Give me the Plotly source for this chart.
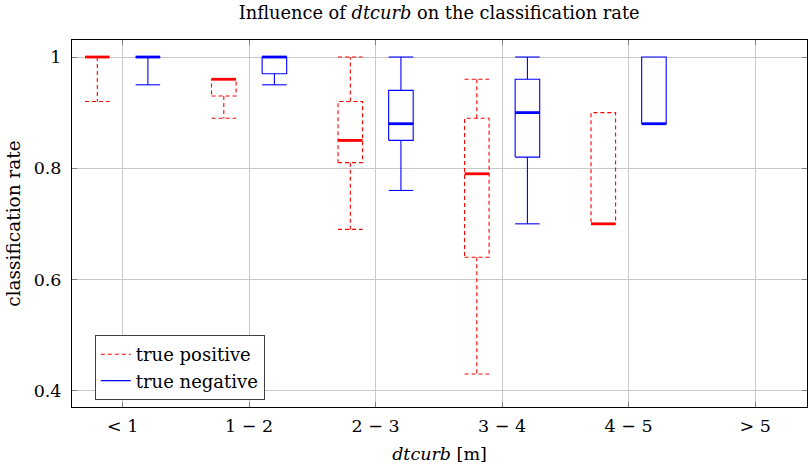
import plotly.graph_objects as go

categories = ["< 1", "1 − 2", "2 − 3", "3 − 4", "4 − 5", "> 5"]

# true positive (red, dashed)
tp_lower = [0.92, 0.89, 0.69, 0.43, 0.70, None]
tp_q1 = [1.00, 0.93, 0.81, 0.64, 0.70, None]
tp_median = [1.00, 0.96, 0.85, 0.79, 0.70, None]
tp_q3 = [1.00, 0.96, 0.92, 0.89, 0.90, None]
tp_upper = [1.00, 0.96, 1.00, 0.96, 0.90, None]

# true negative (blue, solid)
tn_lower = [0.95, 0.95, 0.76, 0.70, 0.88, None]
tn_q1 = [1.00, 0.97, 0.85, 0.82, 0.88, None]
tn_median = [1.00, 1.00, 0.88, 0.90, 0.88, None]
tn_q3 = [1.00, 1.00, 0.94, 0.96, 1.00, None]
tn_upper = [1.00, 1.00, 1.00, 1.00, 1.00, None]

y_ticks = [0.4, 0.6, 0.8, 1.0]
y_ticktext = ["0.4", "0.6", "0.8", "1"]

FONT = "'DejaVu Serif', serif"


def build(lower, q1, med, q3, upper, offset, half):
    xs, ys, xm, ym = [], [], [], []
    for i in range(len(categories)):
        if med[i] is None:
            continue
        c = i + offset
        x0, x1 = c - half, c + half
        # box
        xs += [x0, x1, x1, x0, x0, None]
        ys += [q1[i], q1[i], q3[i], q3[i], q1[i], None]
        # upper whisker + cap
        if upper[i] > q3[i]:
            xs += [c, c, None, x0, x1, None]
            ys += [q3[i], upper[i], None, upper[i], upper[i], None]
        # lower whisker + cap
        if lower[i] < q1[i]:
            xs += [c, c, None, x0, x1, None]
            ys += [q1[i], lower[i], None, lower[i], lower[i], None]
        xm += [x0, x1, None]
        ym += [med[i], med[i], None]
    return xs, ys, xm, ym


fig = go.Figure()
half = 0.097
for name, data, off, color, dash in [
    ("true positive", (tp_lower, tp_q1, tp_median, tp_q3, tp_upper), -0.2, "#ff0000", "4px,3px"),
    ("true negative", (tn_lower, tn_q1, tn_median, tn_q3, tn_upper), 0.2, "#0000ff", "solid"),
]:
    xs, ys, xm, ym = build(*data, off, half)
    fig.add_trace(go.Scatter(x=xs, y=ys, mode="lines", name=name,
                             line=dict(color=color, width=1.1, dash=dash),
                             hoverinfo="skip", legendgroup=name))
    fig.add_trace(go.Scatter(x=xm, y=ym, mode="lines", showlegend=False,
                             line=dict(color=color, width=2.8),
                             hoverinfo="skip", legendgroup=name))

fnt = lambda s: dict(family=FONT, size=s, color="black")

fig.update_layout(
    template="none",
    width=811, height=470,
    margin=dict(l=72, r=4, t=40, b=63),
    paper_bgcolor="white", plot_bgcolor="white",
    font=fnt(18),
    title=dict(text="Influence of <i>dtcurb</i> on the classification rate",
               x=0.5415, xanchor="center", xref="container",
               y=1 - 13 / 470, yanchor="middle", yref="container",
               font=fnt(17.8)),
    legend=dict(x=0.031, y=0.196, xanchor="left", yanchor="top",
                bordercolor="#404040", borderwidth=1, bgcolor="white",
                font=fnt(18), tracegroupgap=0, itemwidth=30),
    showlegend=True,
)
fig.update_xaxes(
    range=[-0.4, 5.41], tickmode="array", tickvals=list(range(len(categories))),
    ticktext=categories, tickfont=fnt(17.5), ticklabelstandoff=3,
    showgrid=True, gridcolor="#c8c8c8", gridwidth=1,
    ticks="inside", ticklen=5, tickcolor="#808080",
    showline=True, linecolor="black", linewidth=1, mirror="ticks",
    zeroline=False,
    title=dict(text="<i>dtcurb</i> [m]", standoff=12, font=fnt(17.5)),
)
fig.update_yaxes(
    range=[0.3706, 1.0306], tickmode="array", tickvals=y_ticks, ticktext=y_ticktext,
    tickfont=fnt(17.5), ticklabelstandoff=6,
    showgrid=True, gridcolor="#c8c8c8", gridwidth=1,
    ticks="inside", ticklen=5, tickcolor="#808080",
    showline=True, linecolor="black", linewidth=1, mirror="ticks",
    zeroline=False,
    title=dict(text="classification rate", standoff=8, font=fnt(18.5)),
)

fig.write_html("out.html")
